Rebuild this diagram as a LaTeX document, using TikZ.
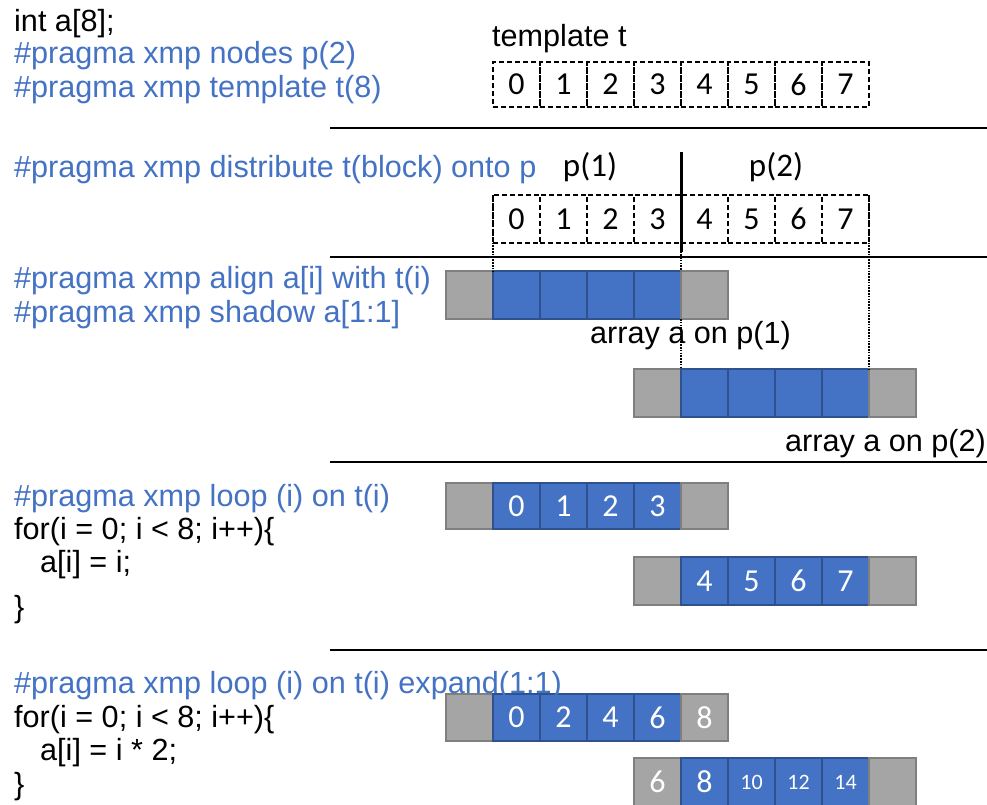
\documentclass[tikz,border=0pt]{standalone}
\usepackage{fontspec}
\setmainfont{Liberation Sans}
\newfontfamily\calibri{Carlito}
\definecolor{xblue}{HTML}{4472C4}
\definecolor{xblueedge}{HTML}{2F528F}
\definecolor{xgray}{HTML}{A5A5A5}
\definecolor{xgrayedge}{HTML}{7F7F7F}

\begin{document}
\begin{tikzpicture}[x=1pt,y=-1pt,
  code/.style={anchor=base west, inner sep=0pt, font=\fontsize{30.6}{33}\selectfont},
  pragma/.style={code, text=xblue},
  label/.style={inner sep=0pt, font=\fontsize{30.6}{33}\selectfont},
  plabel/.style={inner sep=0pt, anchor=base, font=\calibri\fontsize{33}{33}\selectfont},
  tcell/.style={draw, line width=1.2pt, dash pattern=on 5pt off 3pt,
    minimum width=47pt, minimum height=45pt, anchor=north west,
    inner sep=0pt, outer sep=0pt, font=\calibri\fontsize{32}{32}\selectfont},
  dcell/.style={tcell, minimum height=48pt},
  acell/.style={line width=1.5pt, minimum width=47pt, minimum height=48pt,
    anchor=north west, inner sep=0pt, outer sep=0pt, text=white,
    font=\calibri\fontsize{32}{32}\selectfont},
  bcell/.style={acell, fill=xblue, draw=xblueedge},
  gcell/.style={acell, fill=xgray, draw=xgrayedge},
  small/.style={font=\calibri\fontsize{22}{22}\selectfont},
  rule/.style={line width=2pt},
  guide/.style={line width=1.3pt, dash pattern=on 1.5pt off 1.3pt}
]
\useasboundingbox (0,0) rectangle (987,804);

% ---- declarations ----
\node[code]   (decl)  at (14,31) {int a[8];};
\node[pragma] (nodes) at (14,63) {\#pragma xmp nodes p(2)};
\node[pragma] (tmpl)  at (14,97) {\#pragma xmp template t(8)};

\node[label, anchor=base west] (tname) at (492,46) {template t};
\foreach \i in {0,...,7}
  \node[tcell] (t\i) at ({493+47*\i},62) {\i};

\coordinate (r1a) at (330,128); \coordinate (r1b) at (987,128);
\draw[rule] (r1a) -- (r1b);

% ---- distribution ----
\node[pragma] (dist) at (14,177) {\#pragma xmp distribute t(block) onto p};
\node[plabel] (p1) at (590,176) {p(1)};
\node[plabel] (p2) at (776,176) {p(2)};
\foreach \i in {0,...,7}
  \node[dcell] (d\i) at ({493+47*\i},195) {\i};
\coordinate (divtop) at (681,152);
\coordinate (divbot) at (681,252);
\draw[line width=3pt] (divtop) -- (divbot);

\coordinate (r2a) at (330,257); \coordinate (r2b) at (987,257);
\draw[rule] (r2a) -- (r2b);

% ---- align / shadow ----
\node[pragma] (align)  at (14,288) {\#pragma xmp align a[i] with t(i)};
\node[pragma] (shadow) at (14,322) {\#pragma xmp shadow a[1:1]};

\node[gcell] (A0) at (446,271) {};
\foreach \i in {1,...,4}
  \node[bcell] (A\i) at ({446+47*\i},271) {};
\node[gcell] (A5) at (681,271) {};

\node[gcell] (B0) at (634,369) {};
\foreach \i in {1,...,4}
  \node[bcell] (B\i) at ({634+47*\i},369) {};
\node[gcell] (B5) at (869,369) {};

\node[label, anchor=base west] (onp1) at (590,343) {array a on p(1)};
\node[label, anchor=base east] (onp2) at (986,451) {array a on p(2)};

\draw[guide] (d0.north west) -- (A1.north west);
\draw[guide] (d4.south west) -- (A5.north west);
\draw[guide] (A5.south west) -- (B1.north west);
\draw[guide] (d7.north east) -- (B5.north west);

\coordinate (r3a) at (330,462); \coordinate (r3b) at (987,462);
\draw[rule] (r3a) -- (r3b);

% ---- loop ----
\node[pragma] (loop)  at (14,506) {\#pragma xmp loop (i) on t(i)};
\node[code]   (for1)  at (14,539) {for(i = 0; i < 8; i++)\{};
\node[code]   (body1) at (40,572) {a[i] = i;};
\node[code]   (end1)  at (14,617) {\}};

\node[gcell, minimum height=46pt] (C0) at (446,483) {};
\foreach \i in {1,...,4}
  \node[bcell, minimum height=46pt] (C\i) at ({446+47*\i},483) {\pgfmathparse{int(\i-1)}\pgfmathresult};
\node[gcell, minimum height=46pt] (C5) at (681,483) {};

\node[gcell] (D0) at (634,557) {};
\foreach \i in {1,...,4}
  \node[bcell] (D\i) at ({634+47*\i},557) {\pgfmathparse{int(\i+3)}\pgfmathresult};
\node[gcell] (D5) at (869,557) {};

\coordinate (r4a) at (330,650); \coordinate (r4b) at (987,650);
\draw[rule] (r4a) -- (r4b);

% ---- loop with expand ----
\node[gcell, minimum height=47pt] (E0) at (446,694) {};
\foreach \i/\v in {1/0,2/2,3/4,4/6}
  \node[bcell, minimum height=47pt] (E\i) at ({446+47*\i},694) {\v};
\node[gcell, minimum height=47pt] (E5) at (681,694) {8};

\node[gcell] (F0) at (634,758) {6};
\node[bcell] (F1) at (681,758) {8};
\node[bcell, small] (F2) at (728,758) {10};
\node[bcell, small] (F3) at (775,758) {12};
\node[bcell, small] (F4) at (822,758) {14};
\node[gcell] (F5) at (869,758) {};

\node[pragma] (loopx) at (14,693) {\#pragma xmp loop (i) on t(i) expand(1:1)};
\node[code]   (for2)  at (14,727) {for(i = 0; i < 8; i++)\{};
\node[code]   (body2) at (40,760) {a[i] = i * 2;};
\node[code]   (end2)  at (14,794) {\}};
\end{tikzpicture}
\end{document}
